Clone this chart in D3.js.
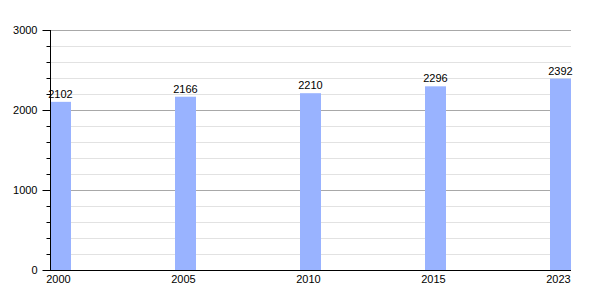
<!DOCTYPE html>
<html>
<head>
<meta charset="utf-8">
<script src="https://cdn.jsdelivr.net/npm/d3@7"></script>
<style>
  body { margin: 0; background: #fff; }
  text { font-family: "Liberation Sans", Arial, sans-serif; font-size: 11px; fill: #000; }
</style>
</head>
<body>
<div id="chart"></div>
<script>
const years = ["2000", "2005", "2010", "2015", "2023"];
const population = [2102, 2166, 2210, 2296, 2392];
const yTicks = [0, 1000, 2000, 3000];

function draw() {
    const width = 600, height = 300;
    const left = 50, right = 571, top = 30, bottom = 270;
    const barWidth = 21;

    const svg = d3.select("#chart").append("svg")
        .attr("width", width)
        .attr("height", height);

    const x = d3.scalePoint()
        .domain(years)
        .range([left, right - barWidth]);

    const y = d3.scaleLinear()
        .domain([0, 3000])
        .range([bottom, top]);

    // minor grid every 200
    const minor = d3.range(200, 3001, 200).filter(v => v % 1000 !== 0);
    svg.append("g").selectAll("line")
        .data(minor)
        .join("line")
        .attr("x1", left).attr("x2", right)
        .attr("y1", d => y(d) + 0.5).attr("y2", d => y(d) + 0.5)
        .attr("stroke", "#e2e2e2");

    svg.append("g").selectAll("line")
        .data(yTicks.filter(v => v > 0))
        .join("line")
        .attr("x1", left).attr("x2", right)
        .attr("y1", d => y(d) + 0.5).attr("y2", d => y(d) + 0.5)
        .attr("stroke", "#a8a8a8");

    svg.append("g").selectAll("rect")
        .data(population)
        .join("rect")
        .attr("x", (d, i) => x(years[i]))
        .attr("y", d => y(d))
        .attr("width", barWidth)
        .attr("height", d => bottom - y(d))
        .attr("fill", "#99b3ff");

    svg.append("g").selectAll("text")
        .data(population)
        .join("text")
        .attr("x", (d, i) => x(years[i]) + barWidth / 2)
        .attr("y", d => y(d) - 4)
        .attr("text-anchor", "middle")
        .text(d => d);

    // y axis with minor ticks
    const yAxis = d3.axisLeft(y)
        .tickValues(d3.range(0, 3001, 200))
        .tickSize(4)
        .tickFormat(d => yTicks.includes(d) ? d : "");
    const gy = svg.append("g")
        .attr("transform", `translate(${left + 0.5},0)`)
        .call(yAxis);
    gy.select(".domain").attr("d", `M0,${top}V${bottom}`).attr("stroke", "#000");
    gy.selectAll(".tick line").attr("stroke", "#000");
    gy.selectAll(".tick").filter(d => yTicks.includes(d)).select("line").attr("x2", -8);
    gy.selectAll(".tick text").attr("x", -13).style("font-family", "Liberation Sans, Arial, sans-serif").style("font-size", "11px");

    // x axis
    svg.append("line")
        .attr("x1", left).attr("x2", right)
        .attr("y1", bottom + 0.5).attr("y2", bottom + 0.5)
        .attr("stroke", "#000");

    svg.append("g").selectAll("text")
        .data(years)
        .join("text")
        .attr("x", d => x(d) + barWidth / 2 - 2)
        .attr("y", bottom + 13)
        .attr("text-anchor", "middle")
        .text(d => d);
}

draw();
</script>
</body>
</html>
